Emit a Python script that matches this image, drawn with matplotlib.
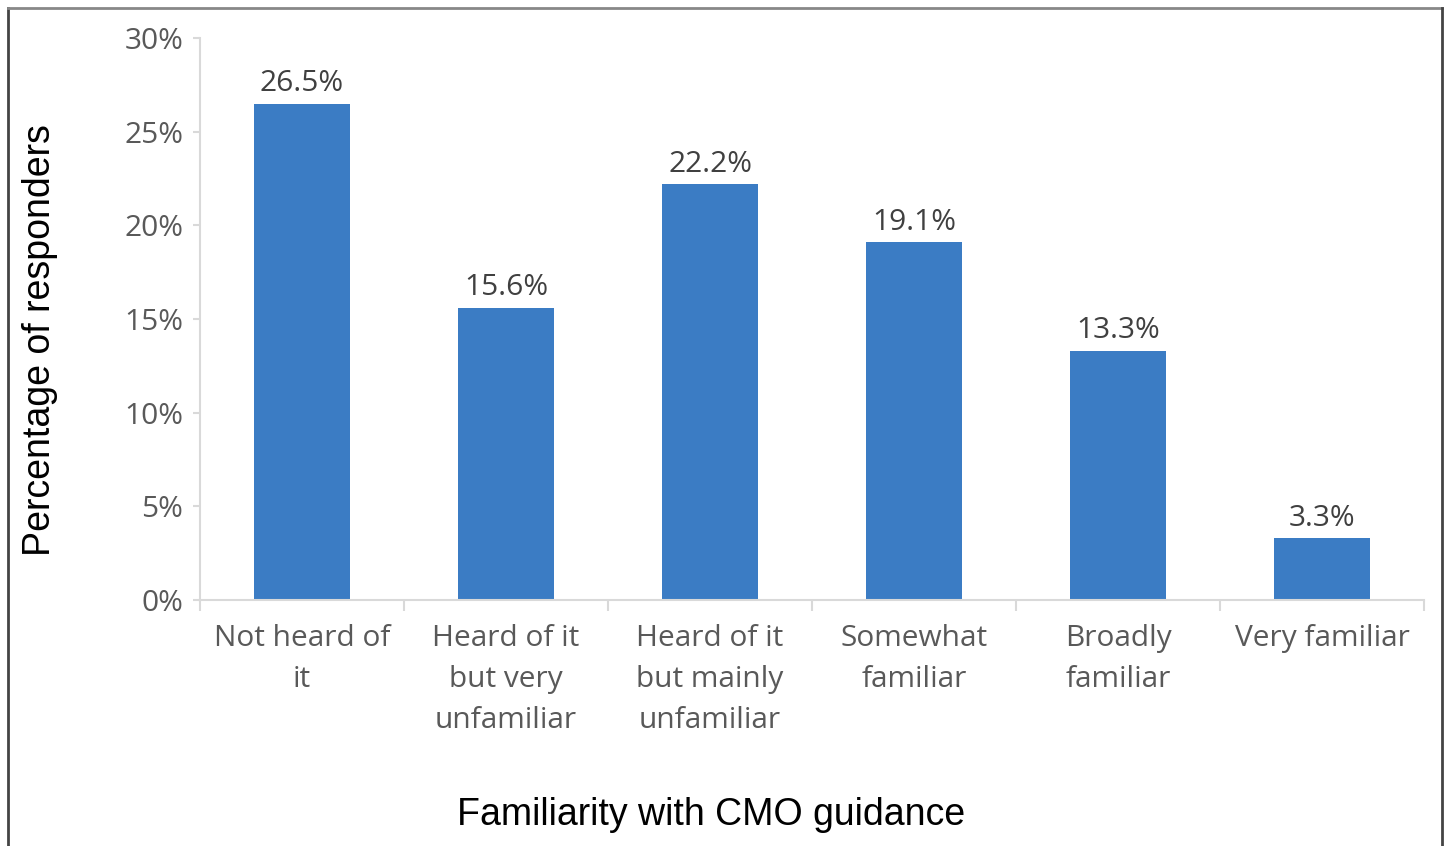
import numpy as np
import matplotlib
matplotlib.use("Agg")
import matplotlib.pyplot as plt
from matplotlib.lines import Line2D

# data
categories = ["Not heard of\nit", "Heard of it\nbut very\nunfamiliar", "Heard of it\nbut mainly\nunfamiliar",
              "Somewhat\nfamiliar", "Broadly\nfamiliar", "Very familiar"]
values = [26.5, 15.6, 22.2, 19.1, 13.3, 3.3]
yticks = [0, 5, 10, 15, 20, 25, 30]

bar_color = "#3B7CC4"
axis_grey = "#D9D9D9"
text_grey = "#595959"

fig = plt.figure(figsize=(14.46, 8.46), dpi=100)
ax = fig.add_axes([200/1446, 246/846, 1224/1446, 562/846])

x = np.arange(len(categories))
bars = ax.bar(x, values, width=0.475, color=bar_color)

ax.set_xlim(-0.5, len(categories) - 0.5)
ax.set_ylim(0, 30)

# labels above bars
for xi, v in zip(x, values):
    ax.annotate(f"{v:.1f}%", (xi, v), xytext=(0, 4), textcoords="offset points",
                ha="center", va="bottom", fontsize=21.5, color="#404040", family="Open Sans")

for s in ["top", "right"]:
    ax.spines[s].set_visible(False)
for s in ["left", "bottom"]:
    ax.spines[s].set_color(axis_grey)
    ax.spines[s].set_linewidth(1.5)

ax.set_yticks(yticks)
ax.set_yticklabels([f"{t}%" for t in yticks], fontsize=21.5, color=text_grey, family="Open Sans")
ax.tick_params(axis="y", length=5, width=1.5, color=axis_grey, pad=7)

ax.set_xticks(x)
ax.set_xticklabels(categories, fontsize=21.5, color=text_grey, family="Open Sans", linespacing=1.55)
ax.tick_params(axis="x", which="major", length=0, pad=17)
ax.set_xticks(np.arange(-0.5, len(categories), 1.0), minor=True)
ax.tick_params(axis="x", which="minor", length=8, width=1.5, color=axis_grey)

fig.text(711/1446, 1 - 815/846, "Familiarity with CMO guidance", ha="center", va="center",
         fontsize=27, color="black", family="Liberation Sans")
fig.text(40/1446, 1 - 340/846, "Percentage of responders", ha="center", va="center",
         rotation=90, fontsize=27, color="black", family="Liberation Sans")

# frame around the picture
fig.add_artist(Line2D([8/1446, 8/1446], [0, 1 - 8/846], transform=fig.transFigure, color="#444444", lw=2))
fig.add_artist(Line2D([8/1446, 1442/1446], [1 - 8/846, 1 - 8/846], transform=fig.transFigure, color="#888888", lw=2))
fig.add_artist(Line2D([1442/1446, 1442/1446], [0, 1 - 8/846], transform=fig.transFigure, color="#444444", lw=2))

fig.savefig("out.png", dpi=100)
